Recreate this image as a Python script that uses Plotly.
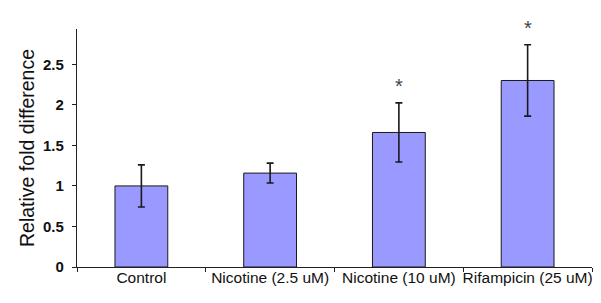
import plotly.graph_objects as go

categories = ["Control", "Nicotine (2.5 uM)", "Nicotine (10 uM)", "Rifampicin (25 uM)"]
values = [1.0, 1.158, 1.659, 2.30]
errors = [0.26, 0.123, 0.365, 0.44]
significant = [False, False, True, True]
y_ticks = [0, 0.5, 1, 1.5, 2, 2.5]
y_tick_labels = ["0", "0.5", "1", "1.5", "2", "2.5"]

fig = go.Figure()
fig.add_trace(go.Bar(
    x=categories, y=values,
    width=0.41,
    marker=dict(color="#9999FF", line=dict(color="#1a1a1a", width=1)),
    error_y=dict(type="data", array=errors, visible=True,
                 color="#1a1a1a", thickness=1.6, width=3.5),
))

for c, v, e, s in zip(categories, values, errors, significant):
    if s:
        fig.add_annotation(x=c, y=v + e, text="*", showarrow=False,
                           font=dict(family="Liberation Sans", size=20, color="#444444"),
                           yanchor="bottom", xanchor="center", yshift=4)

fig.update_layout(
    width=601, height=303,
    margin=dict(l=69, r=17, t=21, b=44),
    plot_bgcolor="white", paper_bgcolor="white",
    showlegend=False,
    font=dict(family="Liberation Sans", color="#111111"),
)
fig.update_xaxes(
    showline=True, linecolor="#222222", linewidth=1.2,
    tickson="boundaries", ticks="outside", ticklen=4, tickcolor="#222222",
    tickfont=dict(family="Liberation Sans", size=15.5, color="#111111"),
    tickangle=0, automargin=False,
    ticklabelstandoff=-4,
    showgrid=False, zeroline=False,
)
fig.update_yaxes(
    range=[0, 2.935],
    tickvals=y_ticks, ticktext=y_tick_labels,
    showline=True, linecolor="#222222", linewidth=1.2,
    ticks="outside", ticklen=4, tickcolor="#222222",
    tickfont=dict(family="Liberation Sans", size=15, color="#111111", weight="bold"),
    ticklabelstandoff=5, automargin=False,
    showgrid=False, zeroline=False,
    title=dict(text="Relative fold difference",
               font=dict(family="Liberation Sans", size=19.5, color="#111111"), standoff=3),
)

fig.write_html("out.html")
